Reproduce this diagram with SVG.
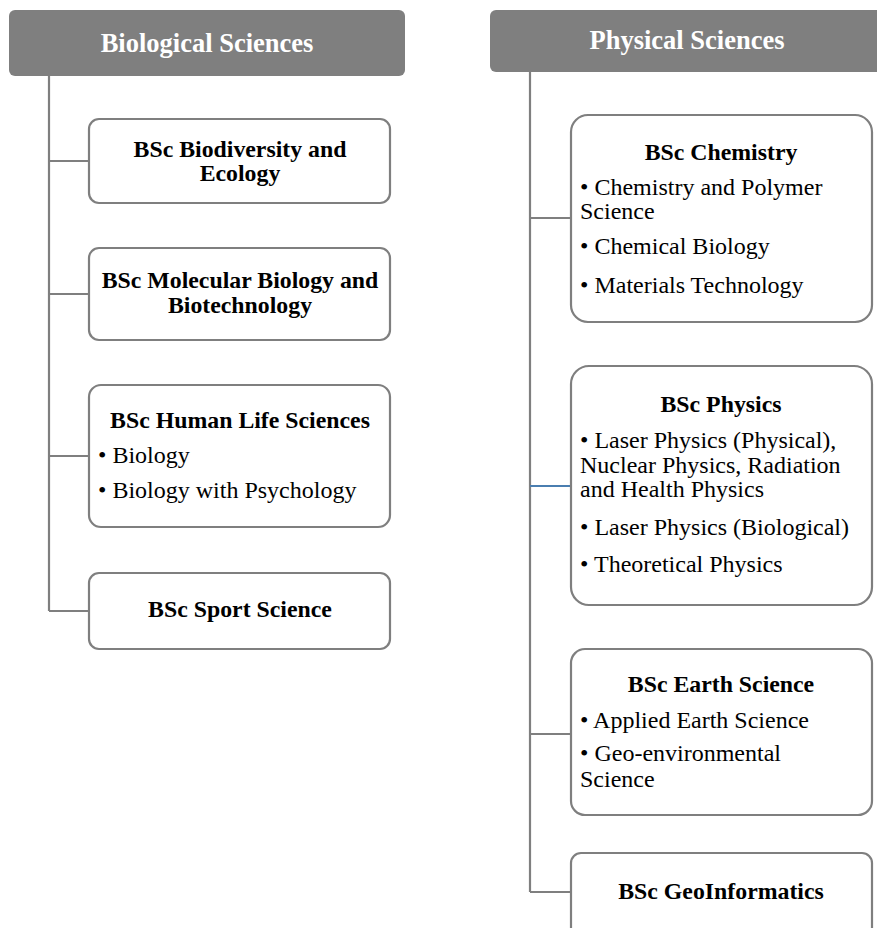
<svg xmlns="http://www.w3.org/2000/svg" width="877" height="928" viewBox="0 0 877 928">
<style>
.hdr{fill:#7f7f7f;}
.box{fill:#fff;stroke:#7f7f7f;stroke-width:2.2;}
.ln{stroke:#7f7f7f;stroke-width:2.2;fill:none;}
text{font-family:"Liberation Serif","Times New Roman",serif;}
.ht{font-weight:bold;font-size:26.5px;fill:#fff;text-anchor:middle;}
.t{font-weight:bold;font-size:23.8px;fill:#000;text-anchor:middle;}
.b{font-size:24px;fill:#000;}
</style>
<rect width="877" height="928" fill="#fff"/>
<g id="connectors">
<path class="ln" d="M49 76 V611 M49 161 H89 M49 294 H89 M49 456 H89 M49 611 H89"/>
<path class="ln" d="M530 72 V892 M530 218 H571 M530 734 H571 M530 892 H571"/>
<path d="M530 486 H571" stroke="#4a7eb0" stroke-width="2.2"/>
</g>
<g id="hdr-bio">
<rect class="hdr" x="9" y="10" width="396" height="66" rx="6"/>
<text class="ht" x="207" y="52">Biological Sciences</text>
</g>
<g id="hdr-phys">
<rect class="hdr" x="490" y="10" width="395" height="62" rx="6"/>
<text class="ht" x="687" y="49">Physical Sciences</text>
</g>
<g id="n-biodiv">
<rect class="box" x="89" y="119" width="301" height="84" rx="10"/>
<text class="t" x="240" y="157">BSc Biodiversity and</text>
<text class="t" x="240" y="181">Ecology</text>
</g>
<g id="n-molbio">
<rect class="box" x="89" y="248" width="301" height="92" rx="10"/>
<text class="t" x="240" y="288">BSc Molecular Biology and</text>
<text class="t" x="240" y="313">Biotechnology</text>
</g>
<g id="n-human">
<rect class="box" x="89" y="385" width="301" height="142" rx="12"/>
<text class="t" x="240" y="428">BSc Human Life Sciences</text>
<text class="b" x="98" y="463">• Biology</text>
<text class="b" x="98" y="498">• Biology with Psychology</text>
</g>
<g id="n-sport">
<rect class="box" x="89" y="573" width="301" height="76" rx="10"/>
<text class="t" x="240" y="617">BSc Sport Science</text>
</g>
<g id="n-chem">
<rect class="box" x="571" y="115" width="301" height="207" rx="17"/>
<text class="t" x="721" y="160">BSc Chemistry</text>
<text class="b" x="580" y="195">• Chemistry and Polymer</text>
<text class="b" x="580" y="219">Science</text>
<text class="b" x="580" y="254">• Chemical Biology</text>
<text class="b" x="580" y="293">• Materials Technology</text>
</g>
<g id="n-phys">
<rect class="box" x="571" y="366" width="301" height="239" rx="18"/>
<text class="t" x="721" y="412">BSc Physics</text>
<text class="b" x="580" y="448">• Laser Physics (Physical),</text>
<text class="b" x="580" y="473">Nuclear Physics, Radiation</text>
<text class="b" x="580" y="497">and Health Physics</text>
<text class="b" x="580" y="535">• Laser Physics (Biological)</text>
<text class="b" x="580" y="572">• Theoretical Physics</text>
</g>
<g id="n-earth">
<rect class="box" x="571" y="649" width="301" height="166" rx="14"/>
<text class="t" x="721" y="692">BSc Earth Science</text>
<text class="b" x="580" y="728">• Applied Earth Science</text>
<text class="b" x="580" y="761">• Geo-environmental</text>
<text class="b" x="580" y="787">Science</text>
</g>
<g id="n-geoinf">
<rect class="box" x="571" y="853" width="301" height="90" rx="10"/>
<text class="t" x="721" y="899">BSc GeoInformatics</text>
</g>
</svg>
